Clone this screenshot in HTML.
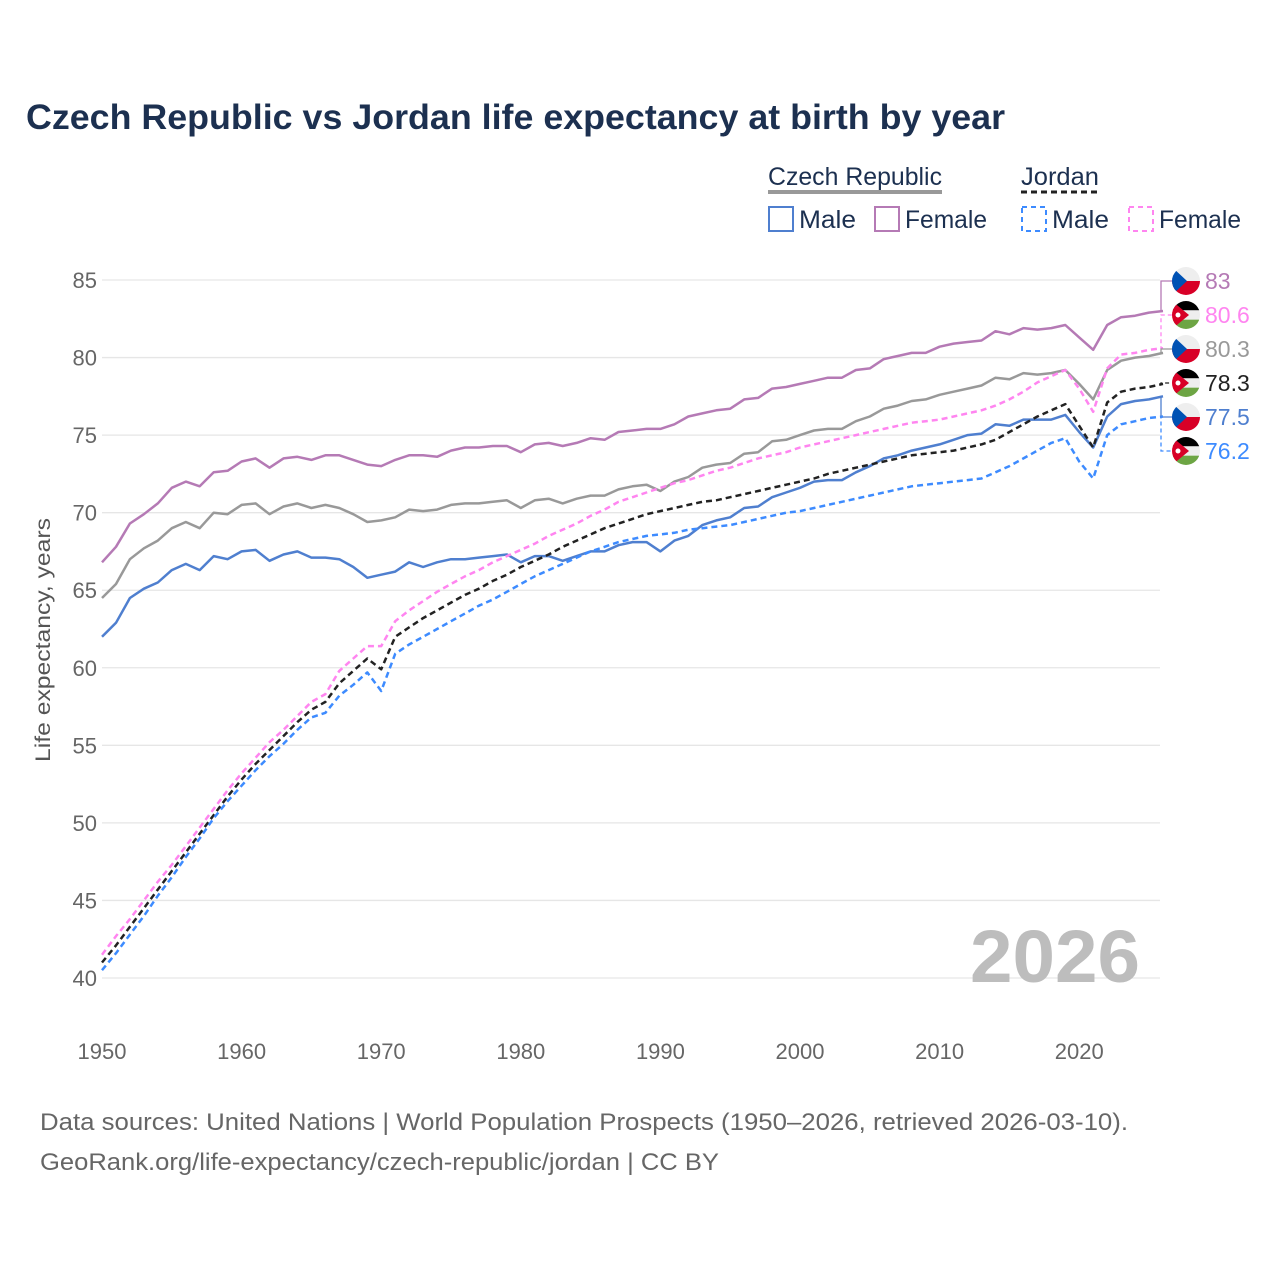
<!DOCTYPE html>
<html><head><meta charset="utf-8">
<style>
body{margin:0;background:#fff;width:1280px;height:1280px;overflow:hidden;font-family:"Liberation Sans",sans-serif}
svg{display:block}
</style></head>
<body>
<svg id="chart" width="1280" height="1280" viewBox="0 0 1280 1280" xmlns="http://www.w3.org/2000/svg">
<text x="26" y="129" font-size="35" font-weight="bold" fill="#1c3050" textLength="979" lengthAdjust="spacingAndGlyphs">Czech Republic vs Jordan life expectancy at birth by year</text>
<g font-size="25" fill="#1c3050">
 <text x="768" y="185" textLength="174" lengthAdjust="spacingAndGlyphs">Czech Republic</text>
 <line x1="768" y1="192" x2="942" y2="192" stroke="#999" stroke-width="4"/>
 <text x="1021" y="185" textLength="78" lengthAdjust="spacingAndGlyphs">Jordan</text>
 <line x1="1021" y1="192" x2="1099" y2="192" stroke="#222" stroke-width="3" stroke-dasharray="6,4"/>
 <g><rect x="769" y="207" width="24" height="24" fill="none" stroke="#4f7fcf" stroke-width="2"/><text x="799" y="228" textLength="57" lengthAdjust="spacingAndGlyphs">Male</text></g>
 <g><rect x="875" y="207" width="24" height="24" fill="none" stroke="#b57ab5" stroke-width="2"/><text x="905" y="228" textLength="82" lengthAdjust="spacingAndGlyphs">Female</text></g>
 <g><rect x="1022" y="207" width="24" height="24" fill="none" stroke="#3d8bff" stroke-width="2" stroke-dasharray="5,4"/><text x="1052" y="228" textLength="57" lengthAdjust="spacingAndGlyphs">Male</text></g>
 <g><rect x="1129" y="207" width="24" height="24" fill="none" stroke="#ff85f0" stroke-width="2" stroke-dasharray="5,4"/><text x="1159" y="228" textLength="82" lengthAdjust="spacingAndGlyphs">Female</text></g>
</g>
<g id="grid"></g>
<g id="series"></g>
<g id="endlabels"></g>
<text transform="translate(50,640) rotate(-90)" text-anchor="middle" font-size="21" fill="#555" textLength="244" lengthAdjust="spacingAndGlyphs">Life expectancy, years</text>
<text x="970" y="982" font-size="74" font-weight="bold" fill="#bdbdbd" textLength="170" lengthAdjust="spacingAndGlyphs">2026</text>
<text x="40" y="1130" font-size="24" fill="#666" textLength="1088" lengthAdjust="spacingAndGlyphs">Data sources: United Nations | World Population Prospects (1950–2026, retrieved 2026-03-10).</text>
<text x="40" y="1170" font-size="24" fill="#666" textLength="679" lengthAdjust="spacingAndGlyphs">GeoRank.org/life-expectancy/czech-republic/jordan | CC BY</text>
</svg>
<script>
const years=[];for(let y=1950;y<=2026;y++)years.push(y);
const czFemale=[66.8,67.8,69.3,69.9,70.6,71.6,72.0,71.7,72.6,72.7,73.3,73.5,72.9,73.5,73.6,73.4,73.7,73.7,73.4,73.1,73.0,73.4,73.7,73.7,73.6,74.0,74.2,74.2,74.3,74.3,73.9,74.4,74.5,74.3,74.5,74.8,74.7,75.2,75.3,75.4,75.4,75.7,76.2,76.4,76.6,76.7,77.3,77.4,78.0,78.1,78.3,78.5,78.7,78.7,79.2,79.3,79.9,80.1,80.3,80.3,80.7,80.9,81.0,81.1,81.7,81.5,81.9,81.8,81.9,82.1,81.3,80.5,82.1,82.6,82.7,82.9,83.0];
const czTotal=[64.5,65.4,67.0,67.7,68.2,69.0,69.4,69.0,70.0,69.9,70.5,70.6,69.9,70.4,70.6,70.3,70.5,70.3,69.9,69.4,69.5,69.7,70.2,70.1,70.2,70.5,70.6,70.6,70.7,70.8,70.3,70.8,70.9,70.6,70.9,71.1,71.1,71.5,71.7,71.8,71.4,72.0,72.3,72.9,73.1,73.2,73.8,73.9,74.6,74.7,75.0,75.3,75.4,75.4,75.9,76.2,76.7,76.9,77.2,77.3,77.6,77.8,78.0,78.2,78.7,78.6,79.0,78.9,79.0,79.2,78.3,77.3,79.2,79.8,80.0,80.1,80.3];
const czMale=[62.0,62.9,64.5,65.1,65.5,66.3,66.7,66.3,67.2,67.0,67.5,67.6,66.9,67.3,67.5,67.1,67.1,67.0,66.5,65.8,66.0,66.2,66.8,66.5,66.8,67.0,67.0,67.1,67.2,67.3,66.8,67.2,67.2,66.9,67.2,67.5,67.5,67.9,68.1,68.1,67.5,68.2,68.5,69.2,69.5,69.7,70.3,70.4,71.0,71.3,71.6,72.0,72.1,72.1,72.6,73.0,73.5,73.7,74.0,74.2,74.4,74.7,75.0,75.1,75.7,75.6,76.0,76.0,76.0,76.3,75.2,74.2,76.2,77.0,77.2,77.3,77.5];
const joFemale=[41.5,42.7,43.8,45.0,46.2,47.3,48.5,49.7,50.9,52.1,53.2,54.2,55.2,56.0,56.9,57.8,58.3,59.8,60.6,61.4,61.4,63.0,63.7,64.3,64.9,65.4,65.9,66.3,66.8,67.2,67.6,68.0,68.5,68.9,69.3,69.8,70.2,70.7,71.0,71.3,71.6,71.9,72.1,72.4,72.7,72.9,73.2,73.5,73.7,73.9,74.2,74.4,74.6,74.8,75.0,75.2,75.4,75.6,75.8,75.9,76.0,76.2,76.4,76.6,76.9,77.3,77.8,78.4,78.8,79.2,78.0,76.5,79.3,80.2,80.3,80.5,80.6];
const joTotal=[41.0,42.1,43.3,44.5,45.7,46.9,48.1,49.3,50.5,51.7,52.8,53.8,54.7,55.6,56.5,57.3,57.8,59.0,59.8,60.6,59.9,62.0,62.6,63.2,63.7,64.2,64.7,65.1,65.6,66.0,66.5,66.9,67.3,67.8,68.2,68.6,69.0,69.3,69.6,69.9,70.1,70.3,70.5,70.7,70.8,71.0,71.2,71.4,71.6,71.8,72.0,72.2,72.5,72.7,72.9,73.1,73.3,73.5,73.7,73.8,73.9,74.0,74.2,74.4,74.7,75.2,75.7,76.2,76.6,77.0,75.6,74.2,77.1,77.8,78.0,78.1,78.3];
const joMale=[40.5,41.6,42.8,44.0,45.3,46.5,47.8,49.0,50.3,51.4,52.4,53.4,54.3,55.1,56.0,56.8,57.1,58.2,58.9,59.7,58.5,60.9,61.5,62.0,62.5,63.0,63.5,64.0,64.4,64.9,65.4,65.9,66.3,66.7,67.1,67.5,67.8,68.1,68.3,68.5,68.6,68.7,68.9,69.0,69.1,69.2,69.4,69.6,69.8,70.0,70.1,70.3,70.5,70.7,70.9,71.1,71.3,71.5,71.7,71.8,71.9,72.0,72.1,72.2,72.6,73.0,73.5,74.0,74.5,74.8,73.3,72.2,75.0,75.7,75.9,76.1,76.2];
const yTicks=[40,45,50,55,60,65,70,75,80,85];
const xTicks=[1950,1960,1970,1980,1990,2000,2010,2020];
const endLabels=["83","80.6","80.3","78.3","77.5","76.2"];

const NS="http://www.w3.org/2000/svg";
const X0=102,X1=1163,Y40=978,Y85=280;
function xs(yr){return X0+(yr-1950)*(X1-X0)/(2026-1950);}
function ys(v){return Y40-(v-40)*(Y40-Y85)/45;}
function mk(tag,attrs,parent){const e=document.createElementNS(NS,tag);for(const k in attrs)e.setAttribute(k,attrs[k]);parent.appendChild(e);return e;}

const grid=document.getElementById('grid');
yTicks.forEach(t=>{
 const l=mk('line',{x1:102,x2:1160,y1:ys(t),y2:ys(t),stroke:'#e6e6e6','stroke-width':1.3},grid);
 
 
 const tx=mk('text',{x:97,y:ys(t)+8,'text-anchor':'end','font-size':22,fill:'#666'},grid);
 tx.textContent=t;
 
 
});
xTicks.forEach(t=>{
 const tx=mk('text',{x:xs(t),y:1059,'text-anchor':'middle','font-size':22,fill:'#666'},grid);
 tx.textContent=t;
 
 
});

const seriesG=document.getElementById('series');
const defs=[
 {d:czFemale,c:'#b57ab5',dash:null,n:'czech-female-line'},
 {d:czTotal,c:'#999999',dash:null,n:'czech-total-line'},
 {d:czMale,c:'#4f7fcf',dash:null,n:'czech-male-line'},
 {d:joFemale,c:'#ff85f0',dash:'6,4',n:'jordan-female-line'},
 {d:joTotal,c:'#222222',dash:'6,4',n:'jordan-total-line'},
 {d:joMale,c:'#3d8bff',dash:'6,4',n:'jordan-male-line'}
];
defs.forEach(s=>{
 const pts=s.d.map((v,i)=>xs(years[i]).toFixed(1)+','+ys(v).toFixed(1)).join(' ');
 const a={points:pts,fill:'none',stroke:s.c,'stroke-width':2.5,'stroke-linejoin':'round'};
 if(s.dash)a['stroke-dasharray']=s.dash;
 const p=mk('polyline',a,seriesG);
 
 
});

const el=document.getElementById('endlabels');
const labY=[281,315,349,383,417,451];
const labCol=['#b57ab5','#ff85f0','#999999','#222222','#4f7fcf','#3d8bff'];
const labCountry=['cz','jo','cz','jo','cz','jo'];
const labSeries=[czFemale,joFemale,czTotal,joTotal,czMale,joMale];
const labDash=[null,'4,3',null,'4,3',null,'4,3'];
let clipId=0;
endLabels.forEach((lab,i)=>{
 const yEnd=ys(labSeries[i][labSeries[i].length-1]);
 const a={points:`${X1},${yEnd.toFixed(1)} 1161,${yEnd.toFixed(1)} 1161,${labY[i]} 1172,${labY[i]}`,fill:'none',stroke:labCol[i],'stroke-width':1.3};
 if(labDash[i])a['stroke-dasharray']=labDash[i];
 const c=mk('polyline',a,el);
 
 
 const cx=1186,cy=labY[i],r=14;
 const g=mk('g',{},el);
 
 
 const cp=mk('clipPath',{id:'fc'+clipId},g);
 mk('circle',{cx:cx,cy:cy,r:r},cp);
 const fg=mk('g',{'clip-path':`url(#fc${clipId})`},g);clipId++;
 if(labCountry[i]==='cz'){
  mk('rect',{x:cx-r,y:cy-r,width:2*r,height:r,fill:'#eeeeee'},fg);
  mk('rect',{x:cx-r,y:cy,width:2*r,height:r,fill:'#d80027'},fg);
  mk('polygon',{points:`${cx-r},${cy-r} ${cx+1},${cy} ${cx-r},${cy+r}`,fill:'#0052b4'},fg);
 }else{
  mk('rect',{x:cx-r,y:cy-r,width:2*r,height:2*r/3,fill:'#000'},fg);
  mk('rect',{x:cx-r,y:cy-r/3,width:2*r,height:2*r/3,fill:'#eeeeee'},fg);
  mk('rect',{x:cx-r,y:cy+r/3,width:2*r,height:2*r/3,fill:'#6da544'},fg);
  mk('polygon',{points:`${cx-r},${cy-r} ${cx+3},${cy} ${cx-r},${cy+r}`,fill:'#d80027'},fg);
  mk('circle',{cx:cx-8,cy:cy,r:2.5,fill:'#fff'},fg);
 }
 const t=mk('text',{x:1205,y:labY[i]+8,'font-size':23,fill:labCol[i]},el);
 t.textContent=lab;
 
 
});
</script>
</body></html>
